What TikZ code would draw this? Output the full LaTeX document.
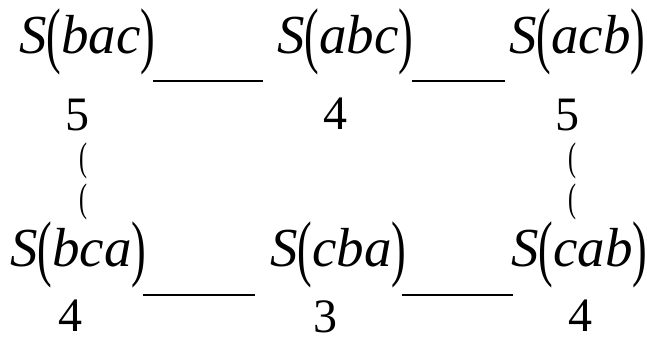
\documentclass[tikz,border=0pt]{standalone}
\usepackage{fontspec}
\setmainfont{Liberation Serif}
\usetikzlibrary{positioning}
% tall thin brackets as in the scan
\newcommand{\tallpar}[1]{\raisebox{-0.12em}{\scalebox{0.8}[1.33]{#1}}}
\newcommand{\perm}[1]{\textit{S}\tallpar{(}\textit{#1}\tallpar{)}}

\begin{document}
\begin{tikzpicture}[
  x=1bp,y=-1bp,
  permbox/.style={inner sep=0pt,anchor=base west,font=\fontsize{55bp}{60bp}\selectfont},
  numbox/.style={inner sep=0pt,anchor=base,font=\fontsize{48bp}{56bp}\selectfont},
  parbox/.style={inner sep=0pt,anchor=base,font=\fontsize{30bp}{36bp}\selectfont},
  link/.style={line width=2bp}
]
\useasboundingbox (0,0) rectangle (647,341);
% permutations
\foreach \nm/\x/\y in {bac/19/53,abc/277/53,acb/509/53,bca/10/266,cba/270/266,cab/511/266}{
  \node[permbox] (\nm) at (\x,\y) {\perm{\nm}};
}
% values
\foreach \nm/\x/\y/\val in {bac/77.5/130/5,abc/335/129/4,acb/567.5/130/5,bca/70/331/4,cba/325.5/332/3,cab/580/331/4}{
  \node[numbox] (v\nm) at (\x,\y) {\val};
}
% stray brackets
\foreach \nm/\x/\y in {la/83/167,lb/83/208,ra/572/167,rb/572/208}{
  \node[parbox] (p\nm) at (\x,\y) {\tallpar{(}};
}
% underscores
\coordinate (t1) at (153,81);
\coordinate (t2) at (263,81);
\coordinate (t3) at (412,81);
\coordinate (t4) at (505,81);
\coordinate (b1) at (143,295);
\coordinate (b2) at (255,295);
\coordinate (b3) at (402,295);
\coordinate (b4) at (513,295);
\draw[link] (t1) -- (t2);
\draw[link] (t3) -- (t4);
\draw[link] (b1) -- (b2);
\draw[link] (b3) -- (b4);
\end{tikzpicture}
\end{document}
